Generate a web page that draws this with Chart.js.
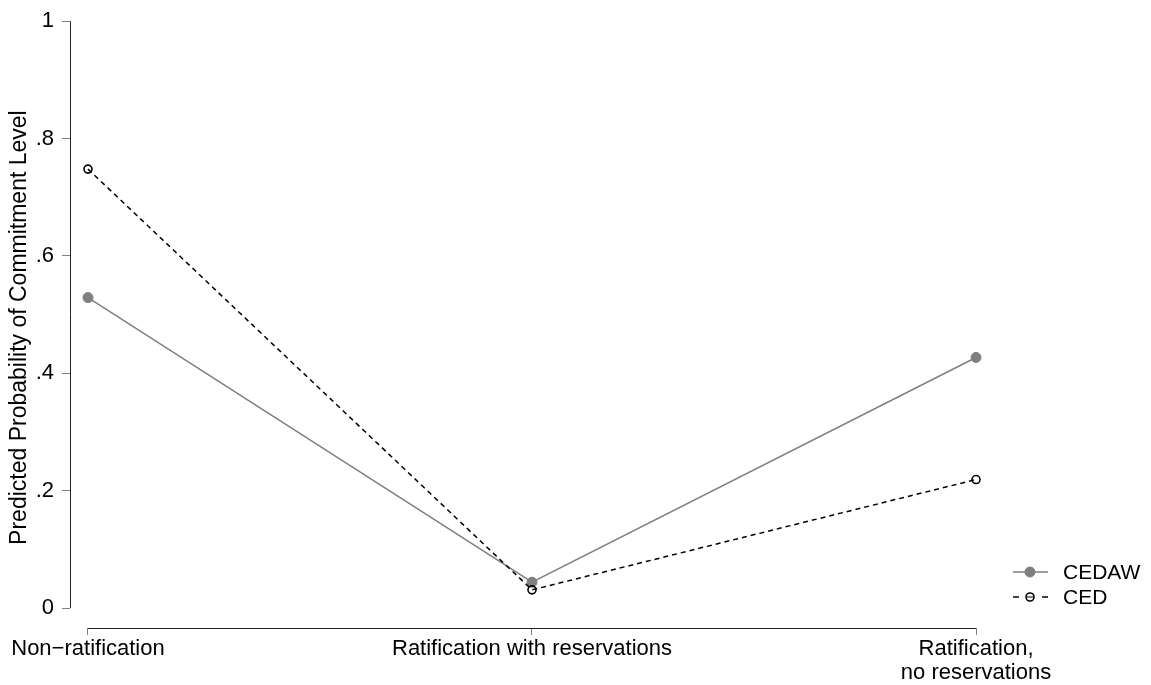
<!DOCTYPE html>
<html>
<head>
<meta charset="utf-8">
<script src="https://cdn.jsdelivr.net/npm/chart.js@4/dist/chart.umd.min.js"></script>
<style>
  html, body { margin: 0; padding: 0; background: #ffffff; }
  #wrap { width: 1151px; height: 685px; position: relative; }
</style>
</head>
<body>
<div id="wrap"><canvas id="c" width="1151" height="685"></canvas></div>
<script>
const categories = ['Non\u2212ratification', 'Ratification with reservations', ['Ratification,', 'no reservations']];
const cedaw = [0.529, 0.044, 0.427];
const ced = [0.748, 0.031, 0.219];
const yTicks = [0, 0.2, 0.4, 0.6, 0.8, 1];
const yTickLabels = ['0', '.2', '.4', '.6', '.8', '1'];
const seriesNames = ['CEDAW', 'CED'];
const yTitle = 'Predicted Probability of Commitment Level';

const FONT = 'Liberation Sans, Arial, Helvetica, sans-serif';
const GRAY = '#7f7f7f';
const FS = 22;

const toPoints = arr => arr.map((v, i) => ({ x: i, y: v }));

const stataAxes = {
  id: 'stataAxes',
  afterDraw(chart) {
    const ctx = chart.ctx;
    const xs = chart.scales.x, ys = chart.scales.y;
    const ca = chart.chartArea;
    ctx.save();
    ctx.strokeStyle = '#222';
    ctx.lineWidth = 1;
    ctx.beginPath();
    ctx.moveTo(ca.left + 0.5, ys.getPixelForValue(yTicks[yTicks.length - 1]));
    ctx.lineTo(ca.left + 0.5, ys.getPixelForValue(yTicks[0]));
    ctx.stroke();
    ctx.beginPath();
    ctx.moveTo(xs.getPixelForValue(0), ca.bottom + 0.5);
    ctx.lineTo(xs.getPixelForValue(categories.length - 1), ca.bottom + 0.5);
    ctx.stroke();
    const yc = (ca.top + ca.bottom) / 2 + 3;
    ctx.translate(20, yc);
    ctx.rotate(-Math.PI / 2);
    ctx.fillStyle = '#000';
    ctx.font = '23px ' + FONT;
    ctx.textAlign = 'center';
    ctx.textBaseline = 'middle';
    ctx.fillText(yTitle, 0, 0);
    ctx.restore();

    ctx.save();
    const lx0 = 1013, lx1 = 1048, mx = 1030, tx = 1063;
    const rows = [572, 597];
    chart.data.datasets.forEach((ds, i) => {
      const y = rows[i];
      ctx.strokeStyle = ds.borderColor;
      ctx.lineWidth = ds.borderWidth;
      if (ds.borderDash) {
        ctx.beginPath();
        ctx.moveTo(lx0, y); ctx.lineTo(lx0 + 6, y);
        ctx.moveTo(lx1 - 6, y); ctx.lineTo(lx1, y);
        ctx.stroke();
      } else {
        ctx.beginPath();
        ctx.moveTo(lx0, y);
        ctx.lineTo(lx1, y);
        ctx.stroke();
      }
      ctx.beginPath();
      ctx.arc(mx, y, ds.pointRadius, 0, Math.PI * 2);
      ctx.fillStyle = ds.pointBackgroundColor;
      ctx.fill();
      ctx.lineWidth = ds.pointBorderWidth;
      ctx.strokeStyle = ds.pointBorderColor;
      ctx.stroke();
      if (ds.borderDash) {
        ctx.beginPath();
        ctx.moveTo(mx - 3, y); ctx.lineTo(mx + 3, y);
        ctx.lineWidth = 1;
        ctx.stroke();
      }
      ctx.fillStyle = '#000';
      ctx.font = '21px ' + FONT;
      ctx.textAlign = 'left';
      ctx.textBaseline = 'middle';
      ctx.fillText(ds.label, tx, y + 1);
    });
    ctx.restore();
  }
};

new Chart(document.getElementById('c'), {
  type: 'line',
  data: {
    datasets: [
      {
        label: seriesNames[0],
        data: toPoints(cedaw),
        borderColor: GRAY,
        borderWidth: 1.5,
        pointRadius: 5,
        pointBackgroundColor: GRAY,
        pointBorderColor: GRAY,
        pointBorderWidth: 1,
        tension: 0,
        order: 1,
        clip: false
      },
      {
        label: seriesNames[1],
        data: toPoints(ced),
        borderColor: '#000',
        borderWidth: 1.5,
        borderDash: [5, 4],
        pointRadius: 4,
        pointBackgroundColor: 'rgba(255,255,255,0)',
        pointBorderColor: '#000',
        pointBorderWidth: 1.6,
        tension: 0,
        order: 0,
        clip: false
      }
    ]
  },
  options: {
    responsive: false,
    animation: false,
    events: [],
    layout: { padding: { top: 20, right: 157, bottom: 0, left: 0 } },
    plugins: { legend: { display: false }, tooltip: { enabled: false } },
    scales: {
      x: {
        type: 'linear',
        min: -0.0405,
        max: 2.0405,
        afterBuildTicks: s => { s.ticks = categories.map((c, i) => ({ value: i })); },
        afterFit: s => { s.height = 57; },
        ticks: {
          autoSkip: false,
          maxRotation: 0,
          color: '#000',
          font: { family: FONT, size: FS, lineHeight: 1.1 },
          padding: 2,
          callback: v => categories[v]
        },
        grid: { display: true, drawOnChartArea: false, drawTicks: true, tickLength: 7, color: GRAY, lineWidth: 1 },
        border: { display: false }
      },
      y: {
        type: 'linear',
        min: -0.034,
        max: 1,
        afterBuildTicks: s => { s.ticks = yTicks.map(v => ({ value: v })); },
        afterFit: s => { s.width = 70; },
        ticks: {
          color: '#000',
          font: { family: FONT, size: FS },
          padding: 8,
          callback: (v) => yTickLabels[yTicks.indexOf(v)]
        },
        grid: { display: true, drawOnChartArea: false, drawTicks: true, tickLength: 8, color: GRAY, lineWidth: 1 },
        border: { display: false }
      }
    }
  },
  plugins: [stataAxes]
});
</script>
</body>
</html>
